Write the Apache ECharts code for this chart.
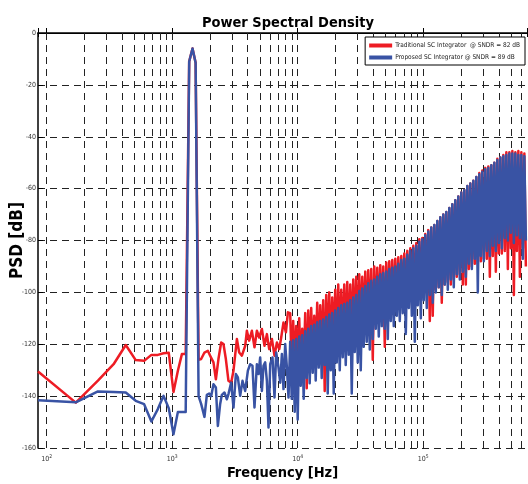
<!DOCTYPE html>
<html>
<head>
<meta charset="utf-8">
<script src="https://cdn.jsdelivr.net/npm/echarts@6/dist/echarts.min.js"></script>
<style>
html, body { margin: 0; padding: 0; background: #fff; }
#chart { width: 528px; height: 484px; }
</style>
</head>
<body>
<div id="chart"></div>
<script>
// low-frequency FFT bins (up to just past the test tone)
const binFreq = [85.45, 170.9, 256.4, 341.8, 427.3, 512.7, 598.2, 683.6, 769.1, 854.5, 940, 1025, 1111, 1196, 1282, 1367, 1453, 1538, 1624];
const redLow = [-130.5, -142.5, -134, -127.7, -120.3, -126.1, -126.4, -124.1, -124.1, -123.5, -123.3, -138.4, -130.2, -123.8, -123.8, -11, -6, -11.5, -126];
const blueLow = [-141.6, -142.4, -138.2, -138.4, -138.6, -141.8, -143.1, -149.8, -145, -139.9, -144.7, -154.7, -146.1, -146.1, -146.1, -11, -6, -11.5, -140];

// 1.7k - 8.4k
const redMidFreq = [1702, 1809, 1925, 2008, 2134, 2230, 2338, 2457, 2563, 2678, 2809, 2952, 3080, 3278, 3419, 3593, 3817, 3938, 4107, 4315, 4527, 4731, 4935, 5185, 5438, 5683, 5929, 6230, 6535, 6828, 7122, 7388, 7706, 8053, 8354];
const redMid = [-125.7, -123.2, -122.5, -124.4, -127, -133.5, -125.7, -119.3, -119.9, -125.7, -134.1, -134.8, -130.2, -118, -123.2, -124.4, -120.6, -114.8, -118.6, -114.8, -121.2, -114.8, -117.4, -114.1, -120.6, -116.1, -121.9, -118, -124.4, -119.3, -121.9, -117.4, -111.6, -115.4, -107.7];
const blueMidFreq = [1702, 1809, 1890, 1972, 2046, 2134, 2230, 2313, 2412, 2489, 2610, 2728, 2809, 2952, 3080, 3218, 3338, 3482, 3633, 3817, 4011, 4183, 4363, 4527, 4731, 4872, 5026, 5185, 5340, 5508, 5683, 5853, 6038, 6299, 6535, 6741, 7031, 7254, 7483, 7706, 7950, 8202, 8446];
const blueMid = [-143, -148, -139.5, -139, -140, -135.4, -136.7, -151.5, -143, -139.5, -138.6, -141.2, -139.2, -134.8, -144.4, -131.5, -132.8, -139.9, -134.1, -138, -130.2, -127.7, -128.3, -144.4, -127.7, -131.5, -125.1, -138, -128.3, -127, -134.1, -152.1, -127.7, -125.1, -140.5, -123.2, -129, -134.8, -123.8, -137.3, -119.9, -129, -140.5];

// dense shaped-noise band, 8.7k - 656k
const bandFreq = [8714, 8957, 9207, 9465, 9729, 10000, 10280, 10570, 10860, 11160, 11480, 11800, 12130, 12460, 12810, 13170, 13540, 13910, 14300, 14700,
  15110, 15530, 15970, 16410, 16870, 17340, 17830, 18330, 18840, 19360, 19900, 20460, 21030, 21620, 22220, 22840, 23480, 24130, 24810, 25500,
  26210, 26940, 27700, 28470, 29260, 30080, 30920, 31780, 32670, 33580, 34520, 35480, 36470, 37490, 38540, 39610, 40720, 41860, 43020, 44230,
  45460, 46730, 48030, 49370, 50750, 52170, 53620, 55120, 56660, 58240, 59870, 61540, 63260, 65020, 66840, 68700, 70620, 72590, 74620, 76700,
  78840, 81040, 83300, 85630, 88020, 90480, 93000, 95600, 98270, 100900, 103700, 106600, 109600, 112700, 115800, 119000, 122400, 125800, 129300, 132900,
  136600, 140400, 144400, 148400, 152500, 156800, 161200, 165700, 170300, 175000, 179900, 184900, 190100, 195400, 200900, 206500, 212200, 218200, 224200, 230500,
  236900, 243600, 250400, 257300, 264500, 271900, 279500, 287300, 295300, 303600, 312000, 320800, 329700, 338900, 348400, 358100, 368100, 378400, 388900, 399800,
  410900, 422400, 434200, 446300, 458800, 471600, 484800, 498300, 512200, 526500, 541200, 556300, 571800, 587800, 604200, 621100, 638400, 656200];
const redBand = [-108, -129, -111, -130, -113, -127, -110, -128, -114, -129, -108, -137, -107, -127, -106, -126, -109, -125, -104, -126,
  -105, -124, -103, -138, -101, -123, -100, -125, -102, -122, -99, -123, -97, -121, -99, -122, -97, -120, -96, -121,
  -97, -119, -95, -118, -94, -119, -93, -116, -94, -115, -92, -116, -91.5, -114, -91, -126, -90, -112, -90.5, -111,
  -89.5, -110, -90, -121, -88.5, -109, -88, -108, -87.5, -107, -87, -107, -86.5, -106, -86, -105, -85, -105, -84, -104,
  -83, -103, -82, -103, -81, -102, -79.5, -101, -79, -100, -77.5, -100, -76, -111, -75, -109, -74, -99, -72.5, -98,
  -71, -104, -70, -97, -69, -96, -67.5, -97, -66, -95, -64.5, -94, -63, -93, -61.5, -97, -60.5, -97, -59, -91,
  -58, -90, -57, -89, -55.5, -89, -54, -88, -53, -87, -52, -87, -51.5, -94, -51, -86, -50, -92, -48.5, -85,
  -48, -85, -47, -84, -46, -91, -46, -83, -45.5, -101, -46, -84, -45.5, -94, -46, -83, -46.5, -90];
const blueBand = [-119, -141, -118.5, -146, -118, -149, -117, -136, -116.5, -141, -115, -133, -114, -135, -113, -131, -112.5, -134, -111.5, -129,
  -111, -133, -110.5, -128, -109.5, -139, -108.5, -130, -108, -139, -107, -127, -106, -130, -105, -125, -104.5, -128, -104, -124,
  -103, -139, -102, -123, -101, -127, -99.5, -130, -98.5, -121, -97.5, -119, -96.5, -122, -95.5, -118, -95, -114, -94, -117,
  -93, -113, -92.5, -114, -92, -118, -91, -111, -90.5, -113, -90, -109, -89, -111, -87.5, -108, -87, -116, -85.5, -106,
  -84, -109, -83, -119, -82, -105, -80.5, -110, -79.5, -103, -78, -106, -76.5, -101, -75, -104, -74, -100, -72.5, -98,
  -71, -101, -70, -97, -69, -99, -67.5, -95, -66, -98, -64.5, -93, -63, -95, -61.5, -92, -60.5, -94, -59, -89,
  -58, -91, -57, -87, -55.5, -100, -54.5, -86, -53.5, -88, -52.5, -84, -52, -86, -51, -82, -50, -84, -49, -81,
  -48, -83, -47.5, -79, -47, -80, -46.5, -77, -46.5, -81, -46.5, -78, -47, -79, -47, -87, -47.5, -80];

const yTicks = [-160, -140, -120, -100, -80, -60, -40, -20, 0];
const gridFreq = [100, 200, 300, 400, 500, 600, 700, 800, 900,
  1000, 2000, 3000, 4000, 5000, 6000, 7000, 8000, 9000,
  10000, 20000, 30000, 40000, 50000, 60000, 70000, 80000, 90000,
  100000, 200000, 300000, 400000, 500000, 600000];

const redName = 'Traditional SC Integrator  @ SNDR = 82 dB';
const blueName = 'Proposed SC Integrator @ SNDR = 89 dB';
const narrow = "'Liberation Sans Narrow', 'DejaVu Sans Condensed', sans-serif";
const dash = [7, 5];

function pairs(f, v) {
    return f.map((x, i) => [x, v[i]]);
}

const redData = pairs(binFreq, redLow).concat(pairs(redMidFreq, redMid), pairs(bandFreq, redBand));
const blueData = pairs(binFreq, blueLow).concat(pairs(blueMidFreq, blueMid), pairs(bandFreq, blueBand));

const chart = echarts.init(document.getElementById('chart'), null, { renderer: 'canvas' });

const option = {
    animation: false,
    backgroundColor: '#fff',
    title: {
        text: 'Power Spectral Density',
        left: 283,
        top: 11,
        textAlign: 'center',
        textStyle: { fontFamily: narrow, fontSize: 14.5, fontWeight: 'bold', color: '#000' }
    },
    legend: {
        data: [redName, blueName],
        orient: 'vertical',
        right: 3,
        top: 37,
        icon: 'rect',
        itemWidth: 23,
        itemHeight: 4,
        itemGap: 5,
        backgroundColor: '#fff',
        borderColor: '#000',
        borderWidth: 1,
        borderRadius: 0,
        padding: [5, 5, 4, 4],
        textStyle: { fontFamily: narrow, fontSize: 6.5, color: '#222', padding: [0, 0, 0, -2] }
    },
    grid: { left: 38, right: 1, top: 33, bottom: 36, outerBoundsMode: 'none', containLabel: false },
    xAxis: [{
        type: 'log',
        logBase: 10,
        min: 85.45,
        max: 670000,
        name: 'Frequency [Hz]',
        nameLocation: 'middle',
        nameGap: 18,
        nameMoveOverlap: false,
        nameTextStyle: { fontFamily: narrow, fontSize: 14.5, fontWeight: 'bold', color: '#000' },
        axisLine: { lineStyle: { color: '#000', width: 1.5 } },
        axisTick: { inside: true, length: 5, lineStyle: { color: '#000' } },
        splitLine: { show: false },
        axisLabel: {
            margin: 6,
            formatter: v => {
                const l = Math.log10(v);
                const e = Math.round(l);
                return Math.abs(l - e) < 1e-6 ? '{b|10}{s|' + e + '}' : '';
            },
            rich: {
                b: { fontFamily: narrow, fontSize: 7, color: '#333' },
                s: { fontFamily: narrow, fontSize: 5, color: '#333', verticalAlign: 'top', padding: [0, 0, 5, 0] }
            }
        }
    }, {
        type: 'log',
        logBase: 10,
        min: 85.45,
        max: 670000,
        position: 'top',
        axisLine: { lineStyle: { color: '#000', width: 1 } },
        axisTick: { inside: true, length: 4, lineStyle: { color: '#000' } },
        axisLabel: { show: false },
        splitLine: { show: false }
    }],
    yAxis: {
        type: 'value',
        min: yTicks[0],
        max: yTicks[yTicks.length - 1],
        interval: 20,
        name: 'PSD [dB]',
        nameLocation: 'middle',
        nameGap: 12,
        nameMoveOverlap: false,
        nameTextStyle: { fontFamily: narrow, fontSize: 17, fontWeight: 'bold', color: '#000' },
        axisLine: { show: true, lineStyle: { color: '#000', width: 1.5 } },
        axisTick: { show: true, inside: true, length: 5, lineStyle: { color: '#000' } },
        axisLabel: { fontFamily: narrow, fontSize: 7, color: '#333', margin: 2 },
        splitLine: { show: true, lineStyle: { color: '#222', width: 1, type: dash } }
    },
    series: [{
        name: 'grid',
        type: 'line',
        data: [],
        silent: true,
        z: 1,
        markLine: {
            silent: true,
            symbol: 'none',
            z: 1,
            label: { show: false },
            lineStyle: { color: '#222', width: 1, type: dash },
            data: gridFreq.map(f => ({ xAxis: f }))
        }
    }, {
        name: redName,
        type: 'line',
        data: redData,
        showSymbol: false,
        symbol: 'none',
        z: 2,
        color: '#ED1C24',
        lineStyle: { color: '#ED1C24', width: 2.5, join: 'round' }
    }, {
        name: blueName,
        type: 'line',
        data: blueData,
        showSymbol: false,
        symbol: 'none',
        z: 3,
        color: '#3953A4',
        lineStyle: { color: '#3953A4', width: 2.5, join: 'round' }
    }]
};

chart.setOption(option);
</script>
</body>
</html>
